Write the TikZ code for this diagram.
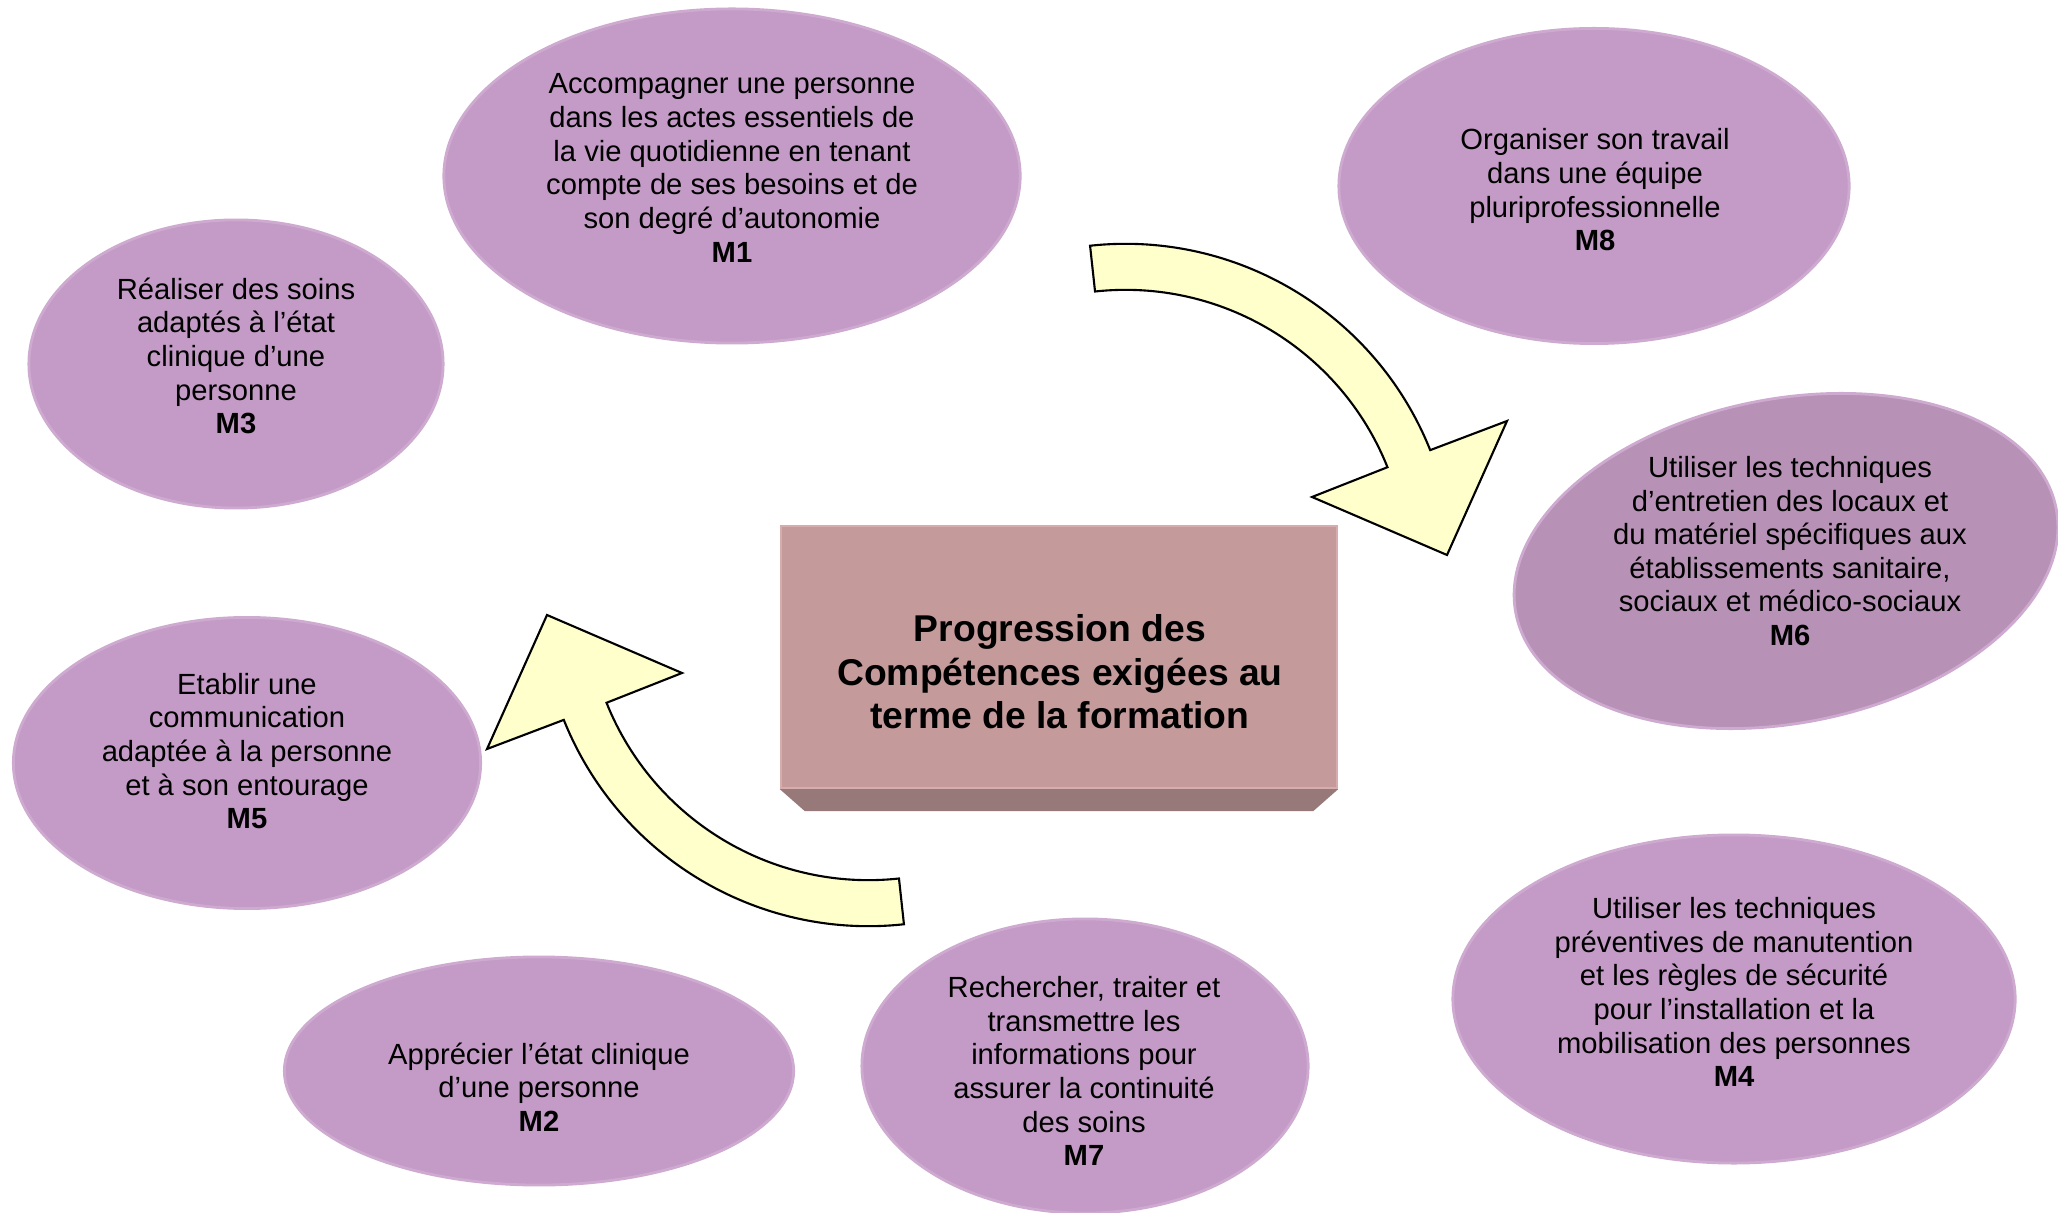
\documentclass[tikz,border=0pt]{standalone}
\usepackage{fontspec}
\setmainfont{Liberation Sans}
\usetikzlibrary{shapes.geometric,calc}
\definecolor{bubfill}{RGB}{196,155,198}
\definecolor{bubdark}{RGB}{183,146,182}
\definecolor{bubedge}{RGB}{206,170,208}
\definecolor{boxfront}{RGB}{196,154,154}
\definecolor{boxedge}{RGB}{214,172,172}
\definecolor{boxbevel}{RGB}{151,121,121}
\definecolor{arrowfill}{RGB}{255,255,204}
\tikzset{
  bubble/.style={ellipse, fill=bubfill, draw=bubedge, line width=0.8pt, inner sep=0pt},
  bubtext/.style={align=center, inner sep=0pt, font=\fontsize{8.3}{9.56}\selectfont},
  titletext/.style={align=center, inner sep=0pt, font=\fontsize{10.6}{12.33}\selectfont\bfseries},
  corebox/.style={rectangle, fill=boxfront, draw=boxedge, line width=0.6pt, inner sep=0pt},
  bentarrow/.pic={
    \draw[fill=arrowfill, draw=black, line width=0.6pt, line join=miter]
      (96.2:3.28cm) arc[start angle=96.2, end angle=21.8, radius=3.28cm]
      -- (381.5,151) -- (321.5,17) -- (186.5,75)
      -- (21.8:2.82cm) arc[start angle=21.8, end angle=96.2, radius=2.82cm]
      -- cycle;
  }
}
\begin{document}
\begin{tikzpicture}[x=0.01cm, y=0.01cm]
\useasboundingbox (0,0) rectangle (2058,-1213);
\fill[white] (0,0) rectangle (2058,-1213);

% ellipses
\node[bubble, minimum width=5.76cm, minimum height=3.34cm] (m1) at (732,-176) {};
\node[bubble, minimum width=5.10cm, minimum height=3.15cm] (m8) at (1594,-186) {};
\node[bubble, minimum width=4.14cm, minimum height=2.88cm] (m3) at (236,-364) {};
\node[bubble, fill=bubdark, rotate=11, minimum width=5.50cm, minimum height=3.24cm] (m6) at (1786,-561) {};
\node[bubble, minimum width=4.67cm, minimum height=2.91cm] (m5) at (247,-763) {};
\node[bubble, minimum width=5.09cm, minimum height=2.28cm] (m2) at (539,-1071) {};
\node[bubble, minimum width=4.46cm, minimum height=2.94cm] (m7) at (1085,-1066) {};
\node[bubble, minimum width=5.62cm, minimum height=3.28cm] (m4) at (1734,-999) {};

% texts
\node[bubtext] (t1) at (732,-168) {Accompagner une personne\\dans les actes essentiels de\\la vie quotidienne en tenant\\compte de ses besoins et de\\son degré d’autonomie\\\textbf{M1}};
\node[bubtext] (t8) at (1595,-190) {Organiser son travail\\dans une équipe\\pluriprofessionnelle\\\textbf{M8}};
\node[bubtext] (t3) at (236,-356) {Réaliser des soins\\adaptés à l’état\\clinique d’une\\personne\\\textbf{M3}};
\node[bubtext] (t6) at (1790,-551) {Utiliser les techniques\\d’entretien des locaux et\\du matériel spécifiques aux\\établissements sanitaire,\\sociaux et médico-sociaux\\\textbf{M6}};
\node[bubtext] (t5) at (247,-751) {Etablir une\\communication\\adaptée à la personne\\et à son entourage\\\textbf{M5}};
\node[bubtext] (t2) at (539,-1087) {Apprécier l’état clinique\\d’une personne\\\textbf{M2}};
\node[bubtext] (t7) at (1084,-1071) {Rechercher, traiter et\\transmettre les\\informations pour\\assurer la continuité\\des soins\\\textbf{M7}};
\node[bubtext] (t4) at (1734,-992) {Utiliser les techniques\\préventives de manutention\\et les règles de sécurité\\pour l’installation et la\\mobilisation des personnes\\\textbf{M4}};

% central box
\node[corebox, minimum width=5.56cm, minimum height=2.62cm] (core) at (1059,-657) {};
\fill[boxbevel] (core.south west) -- (core.south east) -- ++(-25,-22) -- ($(core.south west)+(25,-22)$) -- cycle;
\node[titletext] (title) at (1060,-672) {Progression des\\Compétences exigées au\\terme de la formation};

% curved arrows
\pic at (1125.5,-572) {bentarrow};
\pic[rotate=180] at (868.5,-598) {bentarrow};
\end{tikzpicture}
\end{document}
